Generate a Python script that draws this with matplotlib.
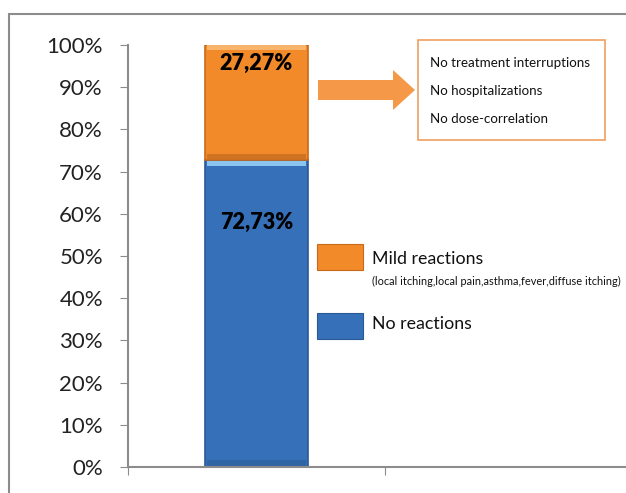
import matplotlib
matplotlib.use("Agg")
import matplotlib.pyplot as plt
from matplotlib.patches import Rectangle, FancyArrow
import numpy as np

plt.rcParams['font.family'] = ['Lato', 'DejaVu Sans']

categories = [""]
series_names = ["No reactions", "Mild reactions"]
no_reactions = [72.73]
mild_reactions = [27.27]
value_labels_no = ["72,73%"]
value_labels_mild = ["27,27%"]
yticks = [0, 10, 20, 30, 40, 50, 60, 70, 80, 90, 100]
ytick_labels = [f"{v}%" for v in yticks]
box_lines = ["No treatment interruptions", "No hospitalizations", "No dose-correlation"]
mild_detail = "(local itching,local pain,asthma,fever,diffuse itching)"

W, H = 626, 493
fig = plt.figure(figsize=(W / 100, H / 100), dpi=100)

def fx(px):
    return px / W

def fy(py):
    return 1 - py / H

# outer frame
fig.patches.append(Rectangle((fx(9), fy(600)), fx(700), fy(14) - fy(600),
                             transform=fig.transFigure, fill=False,
                             edgecolor="#8c8c8c", linewidth=1.5))

ax = fig.add_axes([fx(128), fy(467), fx(514), fy(45) - fy(467)])
x = np.arange(len(categories))
blue = "#3670b8"
orange = "#f28a2a"
bw = 0.4
ax.bar(x, no_reactions, width=bw, color=blue, edgecolor="#2a5a96", linewidth=1.2)
ax.bar(x, mild_reactions, width=bw, bottom=no_reactions, color=orange,
       edgecolor="#c8691a", linewidth=1.2)
# bevel highlights / shades (derived from the data)
nr = np.array(no_reactions)
mr = np.array(mild_reactions)
ax.bar(x, 1.2, width=bw * 0.96, bottom=nr - 1.3, color="#8cc4f0", linewidth=0)
ax.bar(x, 1.5, width=bw * 0.96, bottom=0.2, color="#2b5d99", linewidth=0, alpha=0.6)
ax.bar(x, 1.0, width=bw * 0.96, bottom=nr + mr - 1.1, color="#f7b46a", linewidth=0)
ax.bar(x, 1.3, width=bw * 0.96, bottom=nr + 0.2, color="#c06a1e", linewidth=0, alpha=0.7)

for i in x:
    ax.text(i, 58, value_labels_no[i], ha="center", va="center",
            fontsize=15.5, fontweight="heavy", color="black")
    ax.text(i, no_reactions[i] + mild_reactions[i] - 4.3, value_labels_mild[i],
            ha="center", va="center", fontsize=15.5, fontweight="heavy", color="black")

ax.set_xlim(-0.5, 1.5)
ax.set_ylim(0, 100)
ax.set_yticks(yticks)
ax.set_yticklabels(ytick_labels, fontsize=16, color="#222222")
ax.set_xticks([-0.5, 0.5, 1.5])
ax.set_xticklabels([])
ax.tick_params(axis="y", length=6, color="#8c8c8c", pad=12)
ax.tick_params(axis="x", length=6, color="#8c8c8c", direction="out")
for s in ["top", "right"]:
    ax.spines[s].set_visible(False)
for s in ["left", "bottom"]:
    ax.spines[s].set_color("#8c8c8c")
    ax.spines[s].set_linewidth(1.5)

# arrow
arrow = FancyArrow(fx(318), fy(90), fx(97), 0, width=fy(80) - fy(100),
                   head_width=fy(70) - fy(110), head_length=fx(22),
                   length_includes_head=True, transform=fig.transFigure,
                   color="#f59848", linewidth=0)
fig.patches.append(arrow)

# text box
fig.patches.append(Rectangle((fx(418), fy(140)), fx(187), fy(40) - fy(140),
                             transform=fig.transFigure, facecolor="white",
                             edgecolor="#f0a060", linewidth=1.2))
for k, line in enumerate(box_lines):
    fig.text(fx(430), fy(63 + k * 28), line, fontsize=9.6, va="center",
             ha="left", color="#111111")

# legend
fig.patches.append(Rectangle((fx(317), fy(270)), fx(46), fy(244) - fy(270),
                             transform=fig.transFigure, facecolor=orange,
                             edgecolor="#c8691a", linewidth=0.8))
fig.patches.append(Rectangle((fx(317), fy(339)), fx(46), fy(313) - fy(339),
                             transform=fig.transFigure, facecolor=blue,
                             edgecolor="#2a5a96", linewidth=0.8))
fig.text(fx(372), fy(259), series_names[1], fontsize=12.8, va="center", ha="left",
         color="#111111")
fig.text(fx(372), fy(281), mild_detail, fontsize=7.9, va="center", ha="left",
         color="#111111")
fig.text(fx(372), fy(324), series_names[0], fontsize=12.8, va="center", ha="left",
         color="#111111")

fig.savefig("out.png", dpi=100)
